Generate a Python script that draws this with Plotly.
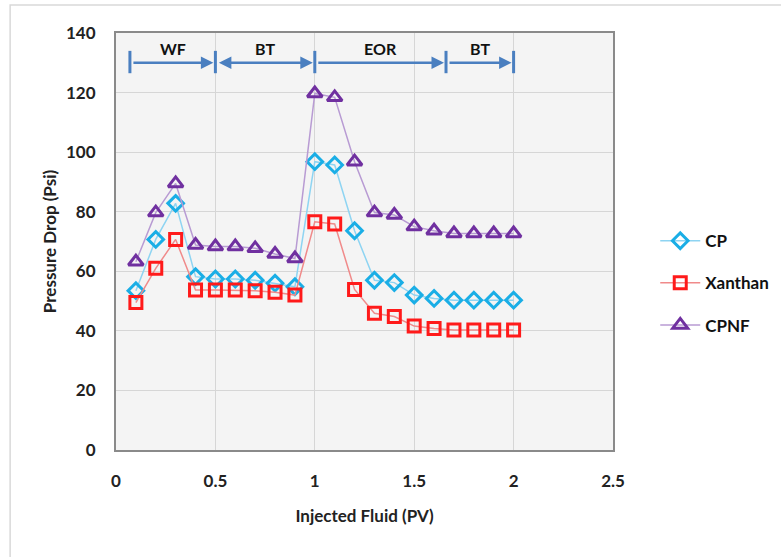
import plotly.graph_objects as go

# Injected pore volumes
pv = [0.1, 0.2, 0.3, 0.4, 0.5, 0.6, 0.7, 0.8, 0.9, 1.0,
      1.1, 1.2, 1.3, 1.4, 1.5, 1.6, 1.7, 1.8, 1.9, 2.0]

# Pressure drop (psi) per fluid
cp = [53.5, 70.7, 82.8, 58.2, 57.4, 57.4, 57.0, 56.0, 54.8, 96.8,
      95.7, 73.6, 57.0, 56.2, 52.0, 50.9, 50.3, 50.3, 50.3, 50.3]
xanthan = [49.5, 61.0, 70.7, 53.7, 53.7, 53.7, 53.5, 53.0, 52.0, 76.6,
           75.9, 53.9, 45.9, 44.8, 41.6, 40.8, 40.3, 40.3, 40.3, 40.3]
cpnf = [63.2, 79.7, 89.5, 68.8, 68.3, 68.3, 67.7, 65.8, 64.3, 119.7,
        118.4, 96.8, 79.7, 78.9, 75.0, 73.6, 72.7, 72.7, 72.7, 72.7]

# Flooding stages along the injection
stage_bounds = [0.07, 0.5, 1.0, 1.66, 2.0]
stage_labels = ["WF", "BT", "EOR", "BT"]

x_ticks = [0, 0.5, 1, 1.5, 2, 2.5]
y_ticks = [0, 20, 40, 60, 80, 100, 120, 140]

FONT = "Lato"
ARROW = "#4a7fc0"

fig = go.Figure()

series = [
    ("CP", cp, "diamond-open", "#1aaee6", "#8ed4f2", 12),
    ("Xanthan", xanthan, "square-open", "#ff1a1a", "#f08a8a", 12),
    ("CPNF", cpnf, "triangle-up-open", "#7030a0", "#b89bd3", 13),
]
for i, (name, vals, sym, mcol, lcol, msize) in enumerate(series):
    fig.add_trace(go.Scatter(
        x=pv, y=vals, name=name, mode="lines+markers",
        legendgroup=f"g{i}",
        line=dict(color=lcol, width=1.5),
        marker=dict(symbol=sym, size=msize, color=mcol,
                    line=dict(color=mcol, width=3)),
    ))

# Stage arrows: horizontal arrow per stage, vertical tick at each boundary
arrow_y = 130
for i, lab in enumerate(stage_labels):
    x0, x1 = stage_bounds[i], stage_bounds[i + 1]
    side = "end+start" if i == 1 else "end"
    fig.add_annotation(
        x=x1, y=arrow_y, ax=x0, ay=arrow_y,
        xref="x", yref="y", axref="x", ayref="y",
        text="", showarrow=True, arrowhead=2, arrowsize=1.0,
        arrowwidth=2.5, arrowcolor=ARROW, arrowside=side,
        standoff=2, startstandoff=2,
    )
    fig.add_annotation(
        x=(x0 + x1) / 2, y=134.8, xref="x", yref="y",
        text=f"<b>{lab}</b>", showarrow=False,
        font=dict(family=FONT, size=16, color="#111111"),
    )
for b in stage_bounds:
    fig.add_shape(type="line", xref="x", yref="y",
                  x0=b, x1=b, y0=126.5, y1=134,
                  line=dict(color=ARROW, width=3))

# Outer frame of the chart area (top and left edges visible)
fig.add_shape(type="rect", xref="paper", yref="paper",
              x0=-0.213, x1=1.40, y0=-0.30, y1=1.067,
              line=dict(color="#d9d9d9", width=1.5), layer="below")

tick_font = dict(family=FONT, size=17, color="#222222", weight="bold")
title_font = dict(family=FONT, size=17, color="#222222", weight="bold")
fig.update_layout(
    width=781, height=557,
    margin=dict(l=116, r=168, t=33, b=107, autoexpand=False),
    paper_bgcolor="white",
    plot_bgcolor="#f4f4f4",
    font=dict(family=FONT, color="#222222"),
    showlegend=True,
    legend=dict(
        x=1.085, y=0.40, xanchor="left", yanchor="middle",
        traceorder="grouped", tracegroupgap=17,
        font=dict(family=FONT, size=17, color="#111111", weight="bold"),
        bgcolor="rgba(0,0,0,0)", itemwidth=40,
    ),
    xaxis=dict(
        range=[0, 2.5], tickvals=x_ticks,
        ticktext=[str(v) for v in x_ticks],
        showgrid=True, gridcolor="#d6d6d6", gridwidth=1,
        showline=True, linecolor="#8a8a8a", linewidth=2, mirror=True,
        zeroline=False, ticks="", ticklabelstandoff=15,
        tickfont=tick_font,
        title=dict(text="Injected Fluid (PV)", standoff=20, font=title_font),
    ),
    yaxis=dict(
        range=[0, 140], tickvals=y_ticks,
        showgrid=True, gridcolor="#d6d6d6", gridwidth=1,
        showline=True, linecolor="#8a8a8a", linewidth=2, mirror=True,
        zeroline=False, ticks="", ticklabelstandoff=15,
        tickfont=tick_font,
        title=dict(text="Pressure Drop (Psi)", standoff=5, font=title_font),
    ),
)

fig.write_html("out.html")
